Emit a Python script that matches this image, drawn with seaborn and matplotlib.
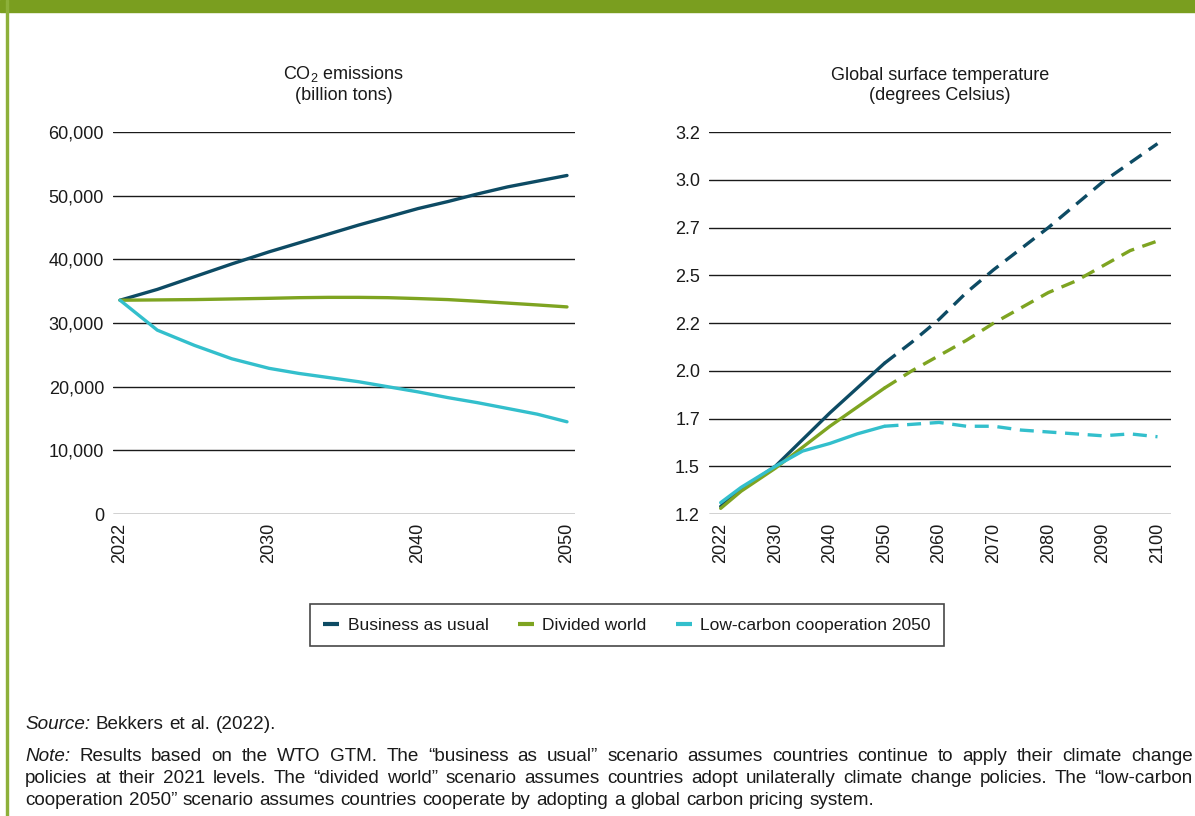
import numpy as np
import pandas as pd
import matplotlib
matplotlib.use("Agg")
import matplotlib.pyplot as plt
from matplotlib.lines import Line2D
from matplotlib.patches import Rectangle
import seaborn as sns

# ---- data ----
scenarios = ["Business as usual", "Divided world", "Low-carbon cooperation 2050"]
colors = ["#0d4b64", "#7ea421", "#33bfcc"]

# CO2 emissions (billion tons)
co2_years = [2022, 2024, 2026, 2028, 2030, 2032, 2034, 2036, 2038, 2040,
             2042, 2044, 2046, 2048, 2050]
co2_bau = [33600, 35300, 37300, 39300, 41200, 42600, 44000, 45400, 46700, 48000,
           49100, 50300, 51400, 52300, 53200]
co2_divided = [33600, 33650, 33700, 33800, 33900, 34000, 34050, 34050, 34000, 33860,
               33700, 33440, 33150, 32860, 32550]
co2_lowcarbon = [33600, 28900, 26500, 24400, 22900, 22100, 21450, 20800, 20000, 19200,
                 18300, 17500, 16600, 15700, 14500]
co2_ticks = [2022, 2030, 2040, 2050]
co2_yticks = [0, 10000, 20000, 30000, 40000, 50000, 60000]

# Global surface temperature (degrees Celsius); solid up to 2050, dashed after
temp_years = [2022, 2025, 2030, 2035, 2040, 2045, 2050, 2055, 2060, 2065,
              2070, 2075, 2080, 2085, 2090, 2095, 2100]
temp_bau = [1.29, 1.38, 1.50, 1.64, 1.78, 1.91, 2.04, 2.15, 2.27, 2.41,
            2.53, 2.64, 2.75, 2.87, 2.99, 3.09, 3.19]
temp_divided = [1.28, 1.37, 1.49, 1.60, 1.71, 1.81, 1.91, 2.00, 2.08, 2.16,
                2.25, 2.33, 2.41, 2.47, 2.55, 2.63, 2.68]
temp_lowcarbon = [1.31, 1.39, 1.50, 1.58, 1.62, 1.67, 1.71, 1.72, 1.73, 1.71,
                  1.71, 1.69, 1.68, 1.67, 1.66, 1.67, 1.655]
temp_ticks = [2022, 2030, 2040, 2050, 2060, 2070, 2080, 2090, 2100]
temp_yticks = [1.25, 1.5, 1.75, 2.0, 2.25, 2.5, 2.75, 3.0, 3.25]
temp_yticklabels = ["1.2", "1.5", "1.7", "2.0", "2.2", "2.5", "2.7", "3.0", "3.2"]
proj_start = 2050

source_line = ("Source:", "Bekkers et al. (2022).")
note_lines = [
    ("Note:", "Results based on the WTO GTM. The \u201cbusiness as usual\u201d scenario assumes "
              "countries continue to apply their climate change"),
    (None, "policies at their 2021 levels. The \u201cdivided world\u201d scenario assumes countries "
           "adopt unilaterally climate change policies. The \u201clow-carbon"),
    (None, "cooperation 2050\u201d scenario assumes countries cooperate by adopting a global "
           "carbon pricing system."),
]

# ---- style ----
sns.set_theme(style="white")
plt.rcParams["font.family"] = ["Liberation Sans", "DejaVu Sans"]
plt.rcParams["mathtext.fontset"] = "custom"
plt.rcParams["mathtext.rm"] = "Liberation Sans"
plt.rcParams["mathtext.it"] = "Liberation Sans:italic"
plt.rcParams["text.color"] = "#1a1a1a"

palette = dict(zip(scenarios, colors))
green = "#7a9e1f"

# long tables for seaborn
co2_df = pd.concat([
    pd.DataFrame({"year": co2_years, "value": vals, "scenario": name})
    for name, vals in zip(scenarios, [co2_bau, co2_divided, co2_lowcarbon])
])
# axis ticks are equally spaced even though 2022 -> 2030 is only 8 years
co2_df["pos"] = np.interp(co2_df["year"], co2_ticks, np.arange(len(co2_ticks)))

temp_parts = []
for name, vals in zip(scenarios, [temp_bau, temp_divided, temp_lowcarbon]):
    d = pd.DataFrame({"year": temp_years, "value": vals, "scenario": name})
    hist = d[d["year"] <= proj_start].assign(segment="hist")
    proj = d[d["year"] >= proj_start].assign(segment="proj")
    temp_parts += [hist, proj]
temp_df = pd.concat(temp_parts)
temp_df["pos"] = np.interp(temp_df["year"], temp_ticks, np.arange(len(temp_ticks)))

fig = plt.figure(figsize=(11.95, 8.16), dpi=100)
ax1 = fig.add_axes([0.0946, 0.370, 0.3866, 0.468])
ax2 = fig.add_axes([0.5933, 0.370, 0.3866, 0.468])

# ---- left: CO2 emissions ----
sns.lineplot(data=co2_df, x="pos", y="value", hue="scenario", palette=palette,
             linewidth=2.4, estimator=None, sort=True, legend=False, ax=ax1)
ax1.set_xlim(-0.047, 3.054)
ax1.set_ylim(0, 60000)
ax1.set_xticks(np.arange(len(co2_ticks)))
ax1.set_xticklabels([str(y) for y in co2_ticks], rotation=90)
ax1.set_yticks(co2_yticks)
ax1.set_yticklabels([f"{v:,}" for v in co2_yticks])
ax1.set_title("CO$_2$ emissions\n(billion tons)", fontsize=13, pad=23, linespacing=1.25)

# ---- right: temperature ----
sns.lineplot(data=temp_df, x="pos", y="value", hue="scenario", style="segment",
             palette=palette, dashes={"hist": "", "proj": (4.2, 2.6)},
             linewidth=2.4, estimator=None, sort=True, legend=False, ax=ax2)
ax2.set_xlim(-0.214, 8.247)
ax2.set_ylim(1.25, 3.25)
ax2.set_xticks(np.arange(len(temp_ticks)))
ax2.set_xticklabels([str(y) for y in temp_ticks], rotation=90)
ax2.set_yticks(temp_yticks)
ax2.set_yticklabels(temp_yticklabels)
ax2.set_title("Global surface temperature\n(degrees Celsius)", fontsize=13, pad=23,
              linespacing=1.25)

for ax in (ax1, ax2):
    ax.set_xlabel("")
    ax.set_ylabel("")
    sns.despine(ax=ax, left=True, bottom=True)
    ax.yaxis.grid(True, color="#1a1a1a", linewidth=1.0)
    ax.xaxis.grid(False)
    ax.set_axisbelow(True)
    ax.tick_params(axis="both", length=0, labelsize=13, colors="#1a1a1a")
    ax.tick_params(axis="y", pad=6.5)
    ax.tick_params(axis="x", pad=6)

# ---- legend ----
handles = [Line2D([0], [0], color=c, lw=3, solid_capstyle="butt") for c in colors]
leg = fig.legend(handles, scenarios, loc="center", bbox_to_anchor=(627 / 1195, 1 - 625 / 816),
                 ncol=3, frameon=True, fancybox=False, edgecolor="#1a1a1a", fontsize=12.5,
                 handlelength=0.9, handletextpad=0.5, columnspacing=1.7, borderpad=0.75)
leg.get_frame().set_linewidth(1.2)

# ---- frame decoration ----
fig.patches.append(Rectangle((0, 1 - 12 / 816), 1, 12 / 816, transform=fig.transFigure,
                             color=green, zorder=0))
fig.patches.append(Rectangle((6 / 1195, 0), 2 / 1195, 1, transform=fig.transFigure,
                             color="#8db03a", zorder=0))

# ---- source and justified note, placed word by word ----
fs = 13.6
renderer = fig.canvas.get_renderer()
x0, x1 = 25, 1193
space_px = fs * 0.30 * 100 / 72
lines = [source_line] + note_lines
baselines = [729, 761, 783, 805]
justified = [False, True, True, False]
for (lead, body), yb, justify in zip(lines, baselines, justified):
    words = ([(lead, "italic")] if lead else []) + [(w, "normal") for w in body.split(" ")]
    texts = [fig.text(0, 1 - yb / 816, w, fontsize=fs, fontstyle=st, va="baseline")
             for w, st in words]
    widths = [t.get_window_extent(renderer).width for t in texts]
    gap = (x1 - x0 - sum(widths)) / (len(words) - 1) if justify else space_px
    x = x0
    for t, w in zip(texts, widths):
        t.set_x(x / 1195)
        x += w + gap

fig.savefig("out.png", dpi=100)
